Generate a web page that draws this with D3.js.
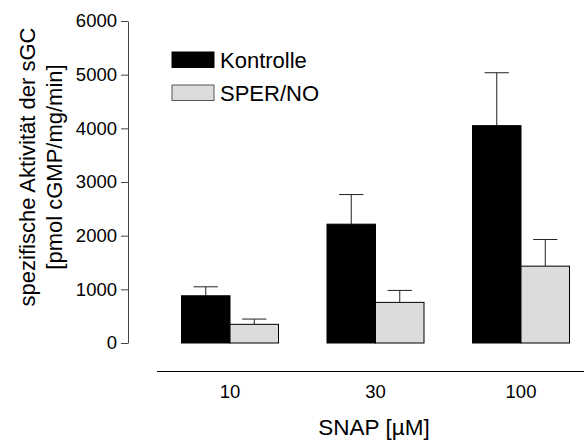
<!DOCTYPE html>
<html>
<head>
<meta charset="utf-8">
<script src="https://cdn.jsdelivr.net/npm/d3@7"></script>
<style>
  body { margin: 0; background: #fff; }
  svg { display: block; font-family: Arial, "Liberation Sans", sans-serif; }
</style>
</head>
<body>
<div id="chart"></div>
<script>
const categories = ["10", "30", "100"]
const series = ["Kontrolle", "SPER/NO"]
const kontrolle = [880, 2214, 4050]
const kontrolleErr = [167, 552, 986]
const sperno = [348, 757, 1432]
const spernoErr = [98, 223, 497]
const yTicks = [0, 1000, 2000, 3000, 4000, 5000, 6000]

const fills = {"Kontrolle": "#000000", "SPER/NO": "#dcdcdc"}

const width = 584, height = 441

const svg = d3.select("#chart").append("svg")
  .attr("width", width)
  .attr("height", height)

let y = d3.scaleLinear().domain([0, 6000]).range([343, 21])

let x0 = d3.scaleBand()
  .domain(categories)
  .range([157.25, 593.75])
  .paddingInner(1/3)
  .paddingOuter(1/6)

let x1 = d3.scaleBand()
  .domain(series)
  .range([0, x0.bandwidth()])

let rows = categories.map((c, i) => ({
  cat: c,
  values: [
    {key: "Kontrolle", value: kontrolle[i], err: kontrolleErr[i]},
    {key: "SPER/NO", value: sperno[i], err: spernoErr[i]}
  ]
}))

// y axis
let yAxis = svg.append("g")
  .attr("transform", "translate(128,0)")
  .call(d3.axisLeft(y).tickValues(yTicks).tickFormat(d3.format("d"))
    .tickSize(7).tickPadding(4).tickSizeOuter(0))
yAxis.select(".domain").attr("stroke", "#444")
yAxis.selectAll(".tick line").attr("stroke", "#444")
yAxis.selectAll(".tick text")
  .attr("fill", "#000")
  .style("font-size", "18.5px")

// bars
let groups = svg.append("g").selectAll("g")
  .data(rows)
  .join("g")
  .attr("transform", d => `translate(${x0(d.cat)},0)`)

groups.selectAll("line.err")
  .data(d => d.values)
  .join("line")
  .attr("class", "err")
  .attr("x1", d => x1(d.key) + x1.bandwidth()/2)
  .attr("x2", d => x1(d.key) + x1.bandwidth()/2)
  .attr("y1", d => y(d.value))
  .attr("y2", d => y(d.value + d.err))
  .attr("stroke", "#222")
  .attr("stroke-width", 1)

groups.selectAll("line.cap")
  .data(d => d.values)
  .join("line")
  .attr("class", "cap")
  .attr("x1", d => x1(d.key) + x1.bandwidth()/4)
  .attr("x2", d => x1(d.key) + x1.bandwidth()*3/4)
  .attr("y1", d => y(d.value + d.err))
  .attr("y2", d => y(d.value + d.err))
  .attr("stroke", "#222")
  .attr("stroke-width", 1)

groups.selectAll("rect")
  .data(d => d.values)
  .join("rect")
  .attr("x", d => x1(d.key))
  .attr("y", d => y(d.value))
  .attr("width", x1.bandwidth())
  .attr("height", d => y(0) - y(d.value))
  .attr("fill", d => fills[d.key])
  .attr("stroke", "#000")
  .attr("stroke-width", 1)

// separate category axis
svg.append("line")
  .attr("x1", 157).attr("x2", 584)
  .attr("y1", 371.5).attr("y2", 371.5)
  .attr("stroke", "#000")

svg.append("g").selectAll("text")
  .data(categories)
  .join("text")
  .attr("x", d => x0(d) + x0.bandwidth()/2)
  .attr("y", 397.5)
  .attr("text-anchor", "middle")
  .style("font-size", "18.5px")
  .text(d => d)

svg.append("text")
  .attr("x", 374)
  .attr("y", 435)
  .attr("text-anchor", "middle")
  .style("font-size", "22.5px")
  .text("SNAP [µM]")

// y label
let yLabel = svg.append("text")
  .attr("transform", "translate(0,167) rotate(-90)")
  .attr("text-anchor", "middle")
  .style("font-size", "22px")
yLabel.append("tspan").attr("x", 0).attr("y", 35).text("spezifische Aktivität der sGC")
yLabel.append("tspan").attr("x", 0).attr("y", 62).text("[pmol cGMP/mg/min]")

// legend
let legend = svg.append("g").selectAll("g")
  .data(series)
  .join("g")
  .attr("transform", (d, i) => `translate(172,${52 + i*33})`)

legend.append("rect")
  .attr("width", 42)
  .attr("height", 15.5)
  .attr("fill", d => fills[d])
  .attr("stroke", d => d == "Kontrolle" ? "#000" : "#555")

legend.append("text")
  .attr("x", 48)
  .attr("y", 15.5)
  .style("font-size", "22px")
  .text(d => d)
</script>
</body>
</html>
